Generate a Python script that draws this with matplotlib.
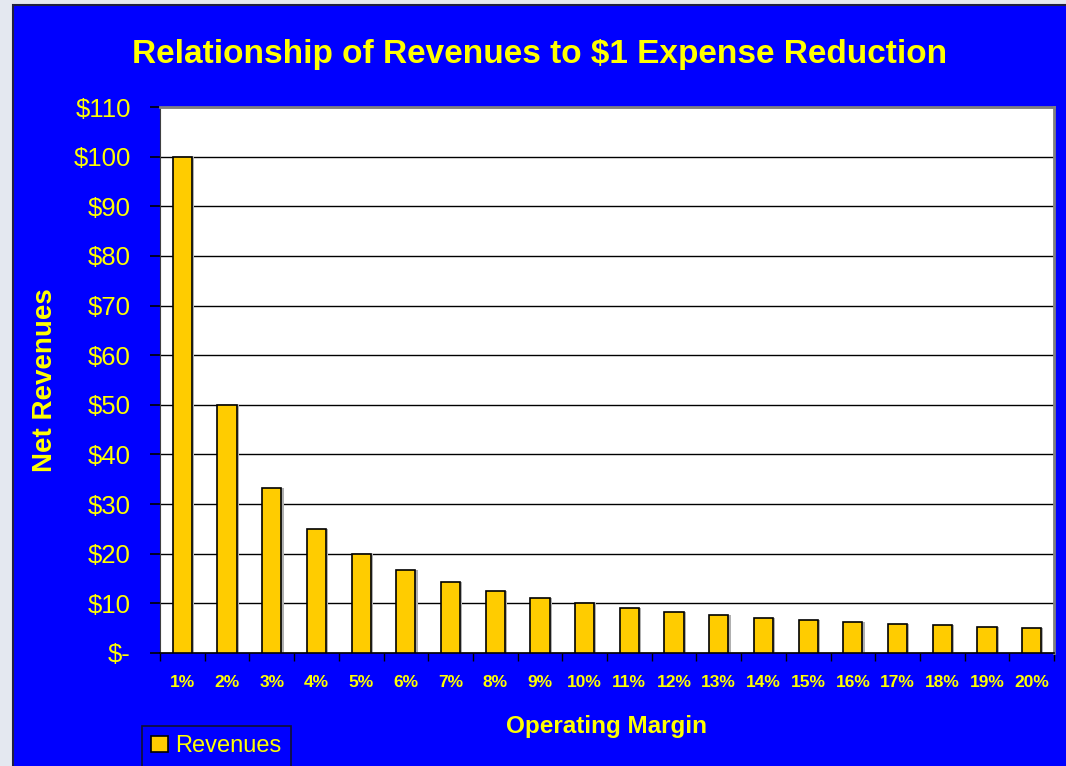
import numpy as np
import matplotlib.pyplot as plt
from matplotlib.patches import Rectangle

# chart data
margins = ['1%', '2%', '3%', '4%', '5%', '6%', '7%', '8%', '9%', '10%',
           '11%', '12%', '13%', '14%', '15%', '16%', '17%', '18%', '19%', '20%']
revenues = [100.0, 50.0, 33.3, 25.0, 20.0, 16.7, 14.3, 12.5, 11.1, 10.0,
            9.1, 8.3, 7.7, 7.1, 6.7, 6.25, 5.9, 5.6, 5.3, 5.0]
y_ticks = [0, 10, 20, 30, 40, 50, 60, 70, 80, 90, 100, 110]
y_labels = ['$-', '$10', '$20', '$30', '$40', '$50', '$60', '$70', '$80', '$90', '$100', '$110']

BLUE = '#0000FF'
YELLOW = '#FFFF00'
BAR = '#FFCC00'

plt.rcParams['font.family'] = ['Liberation Sans', 'DejaVu Sans']

fig = plt.figure(figsize=(10.66, 7.66), dpi=100)
fig.patch.set_facecolor('#E4E8F0')

# blue chart panel, drawn beneath the axes
panel = Rectangle((13 / 1066, -0.01), 1.0, 1 - 5 / 766 + 0.01, transform=fig.transFigure,
                  facecolor=BLUE, edgecolor='#202040', linewidth=1.5, zorder=-10)
fig.patches.append(panel)

ax = fig.add_axes([160 / 1066, 113 / 766, 894 / 1066, 546 / 766])
ax.set_facecolor('white')

x = np.arange(len(margins))
# slight shadow behind the bars
ax.bar(x + 0.05, revenues, width=0.43, color='#B0B0B0', zorder=2)
ax.bar(x, revenues, width=0.43, color=BAR, edgecolor='black', linewidth=1.2,
       zorder=3, label='Revenues')

ax.set_xlim(-0.5, len(margins) - 0.5)
ax.set_ylim(0, 110)

ax.set_yticks(y_ticks)
ax.set_yticklabels(y_labels, color=YELLOW, fontsize=18.5)
ax.yaxis.grid(True, color='black', linewidth=1.0, zorder=1)
ax.set_axisbelow(True)
ax.tick_params(axis='y', direction='out', length=7, width=1.2, color='black', pad=14)

ax.set_xticks(x)
ax.set_xticklabels(margins, color=YELLOW, fontsize=12.5, fontweight='bold')
ax.set_xticks(np.arange(-0.5, len(margins)), minor=True)
ax.tick_params(axis='x', which='major', length=0, pad=16)
ax.tick_params(axis='x', which='minor', direction='out', length=6, width=1.0, color='black')

for side in ['top', 'right']:
    ax.spines[side].set_color('#808080')
    ax.spines[side].set_linewidth(2)
ax.spines['left'].set_color('#404040')
ax.spines['bottom'].set_color('black')
ax.spines['bottom'].set_linewidth(1.2)

ax.set_xlabel('Operating Margin', color=YELLOW, fontsize=17.5, fontweight='bold', labelpad=18)
ax.set_ylabel('Net Revenues', color=YELLOW, fontsize=20, fontweight='bold', labelpad=11)

fig.text(540 / 1066, 1 - 54 / 766, 'Relationship of Revenues to $1 Expense Reduction',
         color=YELLOW, fontsize=24, fontweight='bold', ha='center', va='center')

leg = ax.legend(loc='upper left', bbox_to_anchor=(142 / 1066, 40 / 766),
                bbox_transform=fig.transFigure, frameon=True, fancybox=False,
                facecolor=BLUE, edgecolor='#101030', fontsize=17,
                handlelength=0.7, handleheight=0.7, handletextpad=0.3,
                borderpad=0.4, borderaxespad=0)
leg.get_frame().set_linewidth(1.2)
leg.get_frame().set_alpha(1)
for t in leg.get_texts():
    t.set_color(YELLOW)

fig.savefig('out.png', dpi=100, facecolor=fig.get_facecolor())
